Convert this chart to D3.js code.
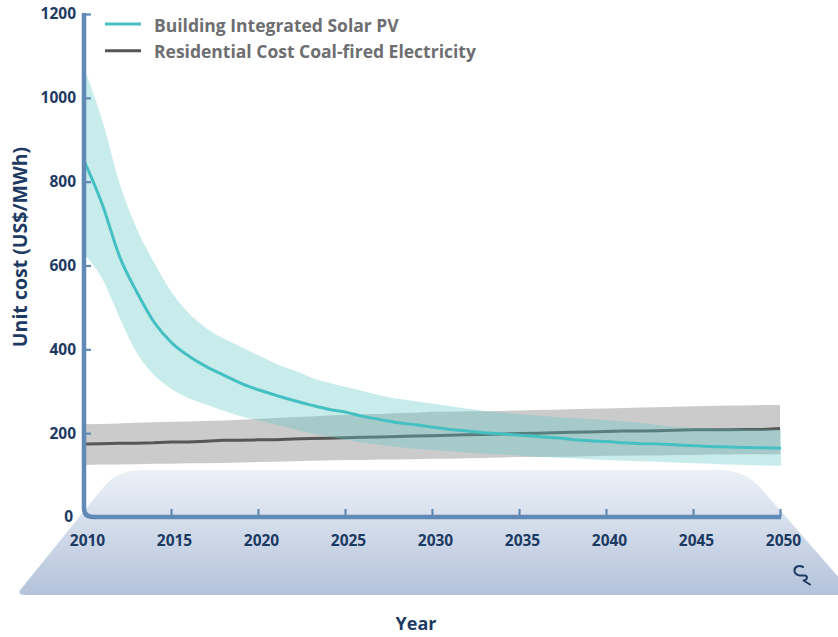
<!DOCTYPE html>
<html>
<head>
<meta charset="utf-8">
<script src="https://cdn.jsdelivr.net/npm/d3@7"></script>
<style>
  html, body { margin: 0; padding: 0; background: #ffffff; }
  svg { display: block; font-family: "Open Sans", "DejaVu Sans", sans-serif; }
</style>
</head>
<body>
<svg id="chart" width="838" height="637"></svg>
<script>
// ---------------- DATA ----------------
const years = [2010,2011,2012,2013,2014,2015,2016,2017,2018,2019,
               2020,2021,2022,2023,2024,2025,2026,2027,2028,2029,
               2030,2031,2032,2033,2034,2035,2036,2037,2038,2039,
               2040,2041,2042,2043,2044,2045,2046,2047,2048,2049,2050];

// Building Integrated Solar PV (US$/MWh)
const pvMid = [845,745,620,535,463,415,383,358,338,318,
               303,290,278,267,257,250,240,232,225,220,
               214,209,205,201,198,195,192,189,185,182,
               180,177,175,174,172,170,168,167,166,165,164];
const pvHigh = [1065,945,795,685,605,535,485,450,425,405,
                385,365,350,333,320,310,300,290,282,276,
                270,264,258,253,249,245,242,239,236,234,
                231,228,224,219,215,213,212,211,210,209,208];
const pvLow = [625,568,475,390,338,305,283,268,253,240,
               230,220,210,200,192,184,177,172,167,163,
               160,157,154,151,149,147,144,142,140,138,
               136,134,133,132,130,128,127,125,124,123,122];

// Residential Cost Coal-fired Electricity (US$/MWh)
const coalMid = [174,175,176,176,177,179,179,181,183,183,
                 184,184,186,187,188,189,190,191,192,193,
                 194,195,196,197,198,199,200,201,202,203,
                 204,205,205,206,207,208,208,208,209,209,211];
const coalHigh = [221,222,223,225,226,227,228,229,230,232,
                  234,236,238,240,242,244,245,246,248,249,
                  251,251,252,252,253,254,255,256,257,258,
                  259,260,261,262,263,264,265,266,266,267,267];
const coalLow = [124,125,125,126,127,127,128,128,129,130,
                 131,132,133,134,135,136,136,137,137,138,
                 139,139,140,141,142,143,143,144,144,145,
                 146,146,147,147,148,148,149,149,150,150,150];

const xTicks = [2010,2015,2020,2025,2030,2035,2040,2045,2050];
const yTicks = [0,200,400,600,800,1000,1200];
const seriesNames = ["Building Integrated Solar PV", "Residential Cost Coal-fired Electricity"];
const xTitle = "Year";
const yTitle = "Unit cost (US$/MWh)";

// ---------------- DRAW ----------------
const svg = d3.select("#chart");
const navy = "#1d3a63";
const axisColor = "#6189b6";

const x = d3.scaleLinear().domain([2010, 2050]).range([84, 780]);
const y = d3.scaleLinear().domain([0, 1200]).range([517, 14]);

// Platform gradient
const defs = svg.append("defs");
const grad = defs.append("linearGradient").attr("id", "plat").attr("x1", 0).attr("y1", 0).attr("x2", 0).attr("y2", 1);
grad.append("stop").attr("offset", "0%").attr("stop-color", "#ecf1f7");
grad.append("stop").attr("offset", "100%").attr("stop-color", "#b3c2da");

svg.append("path")
  .attr("d", "M101,490 Q116,470 141,470 L720,470 Q745,470 761.4,488.9 L856,597 L856,595 L26,595 Q16,595 21,589 Z")
  .attr("fill", "url(#plat)");

// Bands and lines
const d = years.map((yr, i) => ({yr, pvMid: pvMid[i], pvHigh: pvHigh[i], pvLow: pvLow[i],
                                 coalMid: coalMid[i], coalHigh: coalHigh[i], coalLow: coalLow[i]}));

const coalArea = d3.area().x(p => x(p.yr)).y0(p => y(p.coalLow)).y1(p => y(p.coalHigh)).curve(d3.curveLinear);
const pvArea = d3.area().x(p => x(p.yr) + 1).y0(p => y(p.pvLow)).y1(p => y(p.pvHigh)).curve(d3.curveMonotoneX);
const coalLine = d3.line().x(p => x(p.yr)).y(p => y(p.coalMid)).curve(d3.curveLinear);
const pvLine = d3.line().x(p => x(p.yr) + 1).y(p => y(p.pvMid)).curve(d3.curveMonotoneX);

svg.append("path").datum(d).attr("d", coalArea).attr("fill", "#cbcbcb");
svg.append("path").datum(d).attr("d", coalLine).attr("fill", "none").attr("stroke", "#555757").attr("stroke-width", 3);
svg.append("path").datum(d).attr("d", pvArea).attr("fill", "rgb(96,200,200)").attr("fill-opacity", 0.35);
svg.append("path").datum(d).attr("d", pvLine).attr("fill", "none").attr("stroke", "#45c0c2").attr("stroke-width", 3);

// Axes
const yAxis = d3.axisLeft(y).tickValues(yTicks).tickSizeInner(-7).tickSizeOuter(0).tickPadding(8).tickFormat(d3.format("d"));
const gy = svg.append("g").attr("transform", `translate(${x(2010)},0)`).call(yAxis);
gy.select(".domain").remove();
gy.selectAll(".tick line").attr("stroke", axisColor).attr("stroke-width", 2.2);
gy.selectAll(".tick").filter(v => v === 0).select("line").remove();
gy.selectAll(".tick text").attr("fill", navy).style("font-size", "15.5px").style("font-weight", "700")
  .style("font-family", '"Open Sans", sans-serif');
gy.selectAll(".tick").filter(v => v === 0).select("text").attr("x", -11);

const xAxis = d3.axisBottom(x).tickValues(xTicks).tickSizeInner(-8).tickSizeOuter(0).tickPadding(18).tickFormat(d3.format("d"));
const gx = svg.append("g").attr("transform", `translate(0,${y(0)})`).call(xAxis);
gx.select(".domain").remove();
gx.selectAll(".tick line").attr("stroke", axisColor).attr("stroke-width", 2.2);
gx.selectAll(".tick").filter(v => v === 2010).select("line").remove();
gx.selectAll(".tick text").attr("fill", navy).attr("dx", 3).style("font-size", "15.5px").style("font-weight", "700")
  .style("font-family", '"Open Sans", sans-serif');

// Custom axis lines with rounded corner
const x0 = x(2010), y0 = y(0), yTop = y(1200), xEnd = x(2050);
svg.append("path")
  .attr("d", `M${x0},${yTop - 1} V${y0 - 9} Q${x0},${y0} ${x0 + 9},${y0} H${xEnd + 1}`)
  .attr("fill", "none").attr("stroke", axisColor).attr("stroke-width", 4.5);

// Axis titles
svg.append("text").attr("x", 416).attr("y", 630).attr("text-anchor", "middle")
  .attr("fill", navy).style("font-size", "18px").style("font-weight", "700").text(xTitle);
svg.append("text").attr("transform", "translate(27,247) rotate(-90)").attr("text-anchor", "middle")
  .attr("fill", navy).style("font-size", "19.5px").style("font-weight", "700").text(yTitle);

// Legend
const legendColors = ["#45c0c2", "#555757"];
const legendY = [24, 50.7];
seriesNames.forEach((name, i) => {
  svg.append("line").attr("x1", 105).attr("x2", 141).attr("y1", legendY[i]).attr("y2", legendY[i])
    .attr("stroke", legendColors[i]).attr("stroke-width", 3);
  svg.append("text").attr("x", 154).attr("y", legendY[i] + 7.5)
    .attr("fill", "#6d6e71").style("font-size", "17.5px").style("font-weight", "700").text(name);
});

// Small logo mark at lower right
svg.append("path")
  .attr("d", "M803,567 Q800,565.5 797,566.5 Q794,568 794.5,571.5 Q795.5,575 800,575.5 L805,575.5 Q808,576.5 806.5,579 Q805,580.5 803.5,580.5 L810,584.5")
  .attr("fill", "none").attr("stroke", navy).attr("stroke-width", 2).attr("stroke-linecap", "round").attr("stroke-linejoin", "round");
</script>
</body>
</html>
